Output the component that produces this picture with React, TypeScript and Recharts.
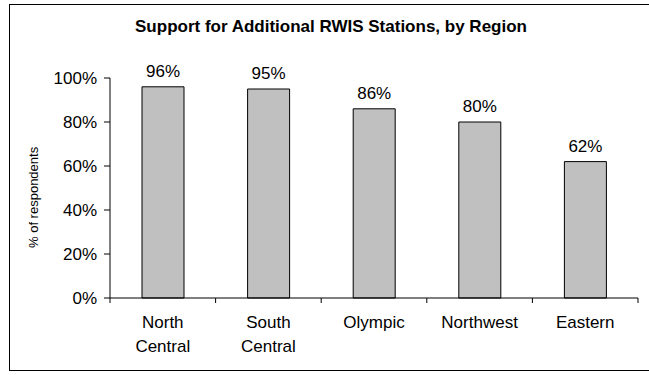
import { BarChart, Bar, XAxis, YAxis, LabelList } from "recharts";

const regions = ["North Central", "South Central", "Olympic", "Northwest", "Eastern"];
const support = [0.96, 0.95, 0.86, 0.8, 0.62];
const yTicks = [0, 0.2, 0.4, 0.6, 0.8, 1];

const data = regions.map((region, i) => ({ region, value: support[i] }));

const pct = (v: number) => `${Math.round(v * 100)}%`;

const font = "'Liberation Sans', Arial, sans-serif";

// category labels split over lines, plus tick marks on the band edges
function RegionTick({ x, y, payload, index, width }: any) {
  const lines = String(payload.value).split(" ");
  const band = width / regions.length;
  const left = x - band / 2;
  const right = x + band / 2;
  return (
    <g>
      <line x1={left} x2={left} y1={y} y2={y + 5} stroke="#000" />
      {index === regions.length - 1 && <line x1={right} x2={right} y1={y} y2={y + 5} stroke="#000" />}
      <text x={x} y={y} textAnchor="middle" fontSize={17} fill="#000" fontFamily={font}>
        {lines.map((line, i) => (
          <tspan key={i} x={x} dy={i === 0 ? 30 : 24}>
            {line}
          </tspan>
        ))}
      </text>
    </g>
  );
}

export default function App() {
  return (
    <div style={{ position: "absolute", left: 0, top: 0, width: 649, height: 375, overflow: "hidden", fontFamily: font }}>
      <div
        style={{
          position: "absolute",
          left: 9,
          top: 4,
          width: 700,
          height: 367,
          border: "1px solid #000",
          boxSizing: "border-box",
        }}
      />
      <div
        style={{
          position: "absolute",
          left: 0,
          top: 17,
          width: 662,
          textAlign: "center",
          fontWeight: "bold",
          fontSize: 17,
        }}
      >
        Support for Additional RWIS Stations, by Region
      </div>
      <div style={{ position: "absolute", left: 0, top: 0 }}>
        <BarChart
          width={649}
          height={375}
          data={data}
          margin={{ top: 78, right: 11, bottom: 0, left: 0 }}
        >
          <XAxis
            dataKey="region"
            axisLine={{ stroke: "#000" }}
            tickLine={false}
            tickSize={0}
            tickMargin={0}
            tick={<RegionTick />}
            interval={0}
            height={77}
          />
          <YAxis
            domain={[0, 1]}
            ticks={yTicks}
            tickFormatter={pct}
            width={110}
            axisLine={{ stroke: "#000" }}
            tickLine={{ stroke: "#000" }}
            tickSize={6}
            tickMargin={7}
            tick={{ fill: "#000", fontSize: 17, fontFamily: font }}
            label={{
              value: "% of respondents",
              angle: -90,
              position: "insideLeft",
              dx: 28,
              dy: 60,
              style: { fill: "#000", fontSize: 13, fontFamily: font },
            }}
          />
          <Bar
            dataKey="value"
            fill="#C0C0C0"
            stroke="#000"
            strokeWidth={1}
            barSize={42}
            isAnimationActive={false}
          >
            <LabelList
              dataKey="value"
              position="top"
              offset={10}
              formatter={(v: any) => pct(Number(v))}
              style={{ fill: "#000", fontSize: 17, fontFamily: font }}
            />
          </Bar>
        </BarChart>
      </div>
    </div>
  );
}
